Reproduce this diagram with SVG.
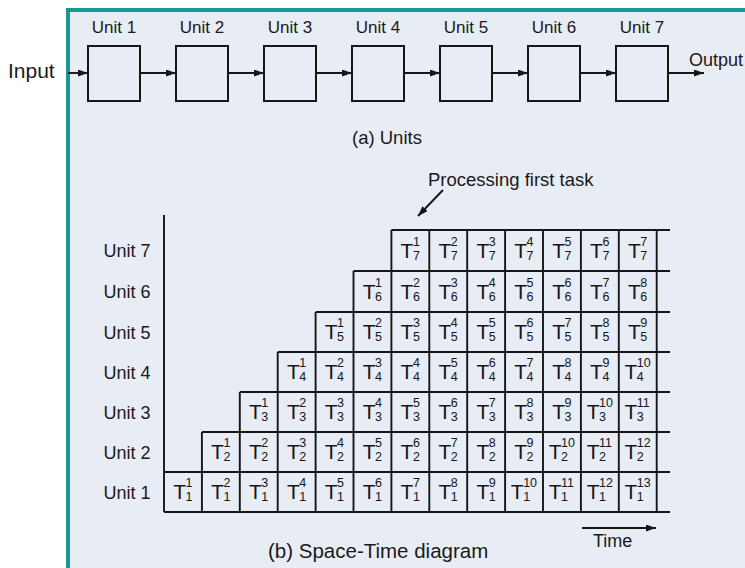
<svg xmlns="http://www.w3.org/2000/svg" width="745" height="568" viewBox="0 0 745 568">
<defs>
<style>
.ln{stroke:#161616;stroke-width:1.9;fill:none}
.bx{stroke:#161616;stroke-width:2;fill:none}
.f{font-family:"Liberation Sans",Arial,Helvetica,sans-serif;fill:#1a1a1a}
.ul{font-size:17px;text-anchor:middle}
.rl{font-size:18px;text-anchor:end}
.t{font-family:"Liberation Sans",Arial,Helvetica,sans-serif;font-size:21px;fill:#161616}
.d{font-size:12.5px}
</style>
<marker id="ah" markerUnits="userSpaceOnUse" markerWidth="10" markerHeight="7" refX="10" refY="3.5" orient="auto">
<path d="M0,0 L10,3.5 L0,7 z" fill="#161616"/>
</marker>
</defs>
<rect x="0" y="0" width="745" height="568" fill="#ffffff"/>
<g id="frame">
<rect x="68" y="10" width="700" height="600" fill="#e8ecf4" stroke="#17998e" stroke-width="4"/>
</g>
<text class="f" x="8" y="78" font-size="21" fill="#000">Input</text>
<text class="f" x="689" y="66" font-size="18">Output</text>
<g id="unit1"><rect class="bx" x="88" y="46" width="52" height="55"/><text class="f ul" x="114" y="33">Unit 1</text></g>
<g id="unit2"><rect class="bx" x="176" y="46" width="52" height="55"/><text class="f ul" x="202" y="33">Unit 2</text></g>
<g id="unit3"><rect class="bx" x="264" y="46" width="52" height="55"/><text class="f ul" x="290" y="33">Unit 3</text></g>
<g id="unit4"><rect class="bx" x="352" y="46" width="52" height="55"/><text class="f ul" x="378" y="33">Unit 4</text></g>
<g id="unit5"><rect class="bx" x="440" y="46" width="52" height="55"/><text class="f ul" x="466" y="33">Unit 5</text></g>
<g id="unit6"><rect class="bx" x="528" y="46" width="52" height="55"/><text class="f ul" x="554" y="33">Unit 6</text></g>
<g id="unit7"><rect class="bx" x="616" y="46" width="52" height="55"/><text class="f ul" x="642" y="33">Unit 7</text></g>
<g id="connectors">
<line class="ln" x1="68" y1="73" x2="88" y2="73" marker-end="url(#ah)"/>
<line class="ln" x1="140" y1="73" x2="176" y2="73" marker-end="url(#ah)"/>
<line class="ln" x1="228" y1="73" x2="264" y2="73" marker-end="url(#ah)"/>
<line class="ln" x1="316" y1="73" x2="352" y2="73" marker-end="url(#ah)"/>
<line class="ln" x1="404" y1="73" x2="440" y2="73" marker-end="url(#ah)"/>
<line class="ln" x1="492" y1="73" x2="528" y2="73" marker-end="url(#ah)"/>
<line class="ln" x1="580" y1="73" x2="616" y2="73" marker-end="url(#ah)"/>
<line class="ln" x1="668" y1="73" x2="704" y2="73" marker-end="url(#ah)"/>
<line class="ln" x1="443" y1="190" x2="418" y2="216" marker-end="url(#ah)"/>
<line class="ln" x1="582" y1="528" x2="656" y2="528" marker-end="url(#ah)"/>
</g>
<text class="f" x="352" y="144" font-size="18.5">(a) Units</text>
<text class="f" x="428" y="185.5" font-size="18.5">Processing first task</text>
<text class="f" x="268" y="558" font-size="20.5">(b) Space-Time diagram</text>
<text class="f" x="593" y="547" font-size="18">Time</text>
<g id="grid">
<path class="ln" d="M391.4,230H670 M353.5,271H670 M315.6,312H670 M277.7,352H670 M239.8,392H670 M201.9,432H670 M164,472H670 M164,512H670 M164,215V512 M201.9,432V512 M239.8,392V512 M277.7,352V512 M315.6,312V512 M353.5,271V512 M391.4,230V512 M429.3,230V512 M467.2,230V512 M505.1,230V512 M543,230V512 M580.9,230V512 M618.8,230V512 M656.7,230V512"/>
</g>
<g id="row-unit7">
<text class="f rl" x="150.5" y="257">Unit 7</text>
<text class="t" x="400.6" y="257.8">T<tspan class="d" x="412.9" y="245.5">1</tspan><tspan class="d" x="412.9" y="259.5">7</tspan></text>
<text class="t" x="438.5" y="257.8">T<tspan class="d" x="450.8" y="245.5">2</tspan><tspan class="d" x="450.8" y="259.5">7</tspan></text>
<text class="t" x="476.4" y="257.8">T<tspan class="d" x="488.7" y="245.5">3</tspan><tspan class="d" x="488.7" y="259.5">7</tspan></text>
<text class="t" x="514.3" y="257.8">T<tspan class="d" x="526.6" y="245.5">4</tspan><tspan class="d" x="526.6" y="259.5">7</tspan></text>
<text class="t" x="552.2" y="257.8">T<tspan class="d" x="564.5" y="245.5">5</tspan><tspan class="d" x="564.5" y="259.5">7</tspan></text>
<text class="t" x="590.1" y="257.8">T<tspan class="d" x="602.4" y="245.5">6</tspan><tspan class="d" x="602.4" y="259.5">7</tspan></text>
<text class="t" x="628" y="257.8">T<tspan class="d" x="640.3" y="245.5">7</tspan><tspan class="d" x="640.3" y="259.5">7</tspan></text>
</g>
<g id="row-unit6">
<text class="f rl" x="150.5" y="298">Unit 6</text>
<text class="t" x="362.7" y="298.8">T<tspan class="d" x="375" y="286.5">1</tspan><tspan class="d" x="375" y="300.5">6</tspan></text>
<text class="t" x="400.6" y="298.8">T<tspan class="d" x="412.9" y="286.5">2</tspan><tspan class="d" x="412.9" y="300.5">6</tspan></text>
<text class="t" x="438.5" y="298.8">T<tspan class="d" x="450.8" y="286.5">3</tspan><tspan class="d" x="450.8" y="300.5">6</tspan></text>
<text class="t" x="476.4" y="298.8">T<tspan class="d" x="488.7" y="286.5">4</tspan><tspan class="d" x="488.7" y="300.5">6</tspan></text>
<text class="t" x="514.3" y="298.8">T<tspan class="d" x="526.6" y="286.5">5</tspan><tspan class="d" x="526.6" y="300.5">6</tspan></text>
<text class="t" x="552.2" y="298.8">T<tspan class="d" x="564.5" y="286.5">6</tspan><tspan class="d" x="564.5" y="300.5">6</tspan></text>
<text class="t" x="590.1" y="298.8">T<tspan class="d" x="602.4" y="286.5">7</tspan><tspan class="d" x="602.4" y="300.5">6</tspan></text>
<text class="t" x="628" y="298.8">T<tspan class="d" x="640.3" y="286.5">8</tspan><tspan class="d" x="640.3" y="300.5">6</tspan></text>
</g>
<g id="row-unit5">
<text class="f rl" x="150.5" y="338.5">Unit 5</text>
<text class="t" x="324.8" y="339.3">T<tspan class="d" x="337.1" y="327">1</tspan><tspan class="d" x="337.1" y="341">5</tspan></text>
<text class="t" x="362.7" y="339.3">T<tspan class="d" x="375" y="327">2</tspan><tspan class="d" x="375" y="341">5</tspan></text>
<text class="t" x="400.6" y="339.3">T<tspan class="d" x="412.9" y="327">3</tspan><tspan class="d" x="412.9" y="341">5</tspan></text>
<text class="t" x="438.5" y="339.3">T<tspan class="d" x="450.8" y="327">4</tspan><tspan class="d" x="450.8" y="341">5</tspan></text>
<text class="t" x="476.4" y="339.3">T<tspan class="d" x="488.7" y="327">5</tspan><tspan class="d" x="488.7" y="341">5</tspan></text>
<text class="t" x="514.3" y="339.3">T<tspan class="d" x="526.6" y="327">6</tspan><tspan class="d" x="526.6" y="341">5</tspan></text>
<text class="t" x="552.2" y="339.3">T<tspan class="d" x="564.5" y="327">7</tspan><tspan class="d" x="564.5" y="341">5</tspan></text>
<text class="t" x="590.1" y="339.3">T<tspan class="d" x="602.4" y="327">8</tspan><tspan class="d" x="602.4" y="341">5</tspan></text>
<text class="t" x="628" y="339.3">T<tspan class="d" x="640.3" y="327">9</tspan><tspan class="d" x="640.3" y="341">5</tspan></text>
</g>
<g id="row-unit4">
<text class="f rl" x="150.5" y="378.5">Unit 4</text>
<text class="t" x="286.9" y="379.3">T<tspan class="d" x="299.2" y="367">1</tspan><tspan class="d" x="299.2" y="381">4</tspan></text>
<text class="t" x="324.8" y="379.3">T<tspan class="d" x="337.1" y="367">2</tspan><tspan class="d" x="337.1" y="381">4</tspan></text>
<text class="t" x="362.7" y="379.3">T<tspan class="d" x="375" y="367">3</tspan><tspan class="d" x="375" y="381">4</tspan></text>
<text class="t" x="400.6" y="379.3">T<tspan class="d" x="412.9" y="367">4</tspan><tspan class="d" x="412.9" y="381">4</tspan></text>
<text class="t" x="438.5" y="379.3">T<tspan class="d" x="450.8" y="367">5</tspan><tspan class="d" x="450.8" y="381">4</tspan></text>
<text class="t" x="476.4" y="379.3">T<tspan class="d" x="488.7" y="367">6</tspan><tspan class="d" x="488.7" y="381">4</tspan></text>
<text class="t" x="514.3" y="379.3">T<tspan class="d" x="526.6" y="367">7</tspan><tspan class="d" x="526.6" y="381">4</tspan></text>
<text class="t" x="552.2" y="379.3">T<tspan class="d" x="564.5" y="367">8</tspan><tspan class="d" x="564.5" y="381">4</tspan></text>
<text class="t" x="590.1" y="379.3">T<tspan class="d" x="602.4" y="367">9</tspan><tspan class="d" x="602.4" y="381">4</tspan></text>
<text class="t" x="624.55" y="379.3">T<tspan class="d" x="636.85" y="367">10</tspan><tspan class="d" x="636.85" y="381">4</tspan></text>
</g>
<g id="row-unit3">
<text class="f rl" x="150.5" y="418.5">Unit 3</text>
<text class="t" x="249" y="419.3">T<tspan class="d" x="261.3" y="407">1</tspan><tspan class="d" x="261.3" y="421">3</tspan></text>
<text class="t" x="286.9" y="419.3">T<tspan class="d" x="299.2" y="407">2</tspan><tspan class="d" x="299.2" y="421">3</tspan></text>
<text class="t" x="324.8" y="419.3">T<tspan class="d" x="337.1" y="407">3</tspan><tspan class="d" x="337.1" y="421">3</tspan></text>
<text class="t" x="362.7" y="419.3">T<tspan class="d" x="375" y="407">4</tspan><tspan class="d" x="375" y="421">3</tspan></text>
<text class="t" x="400.6" y="419.3">T<tspan class="d" x="412.9" y="407">5</tspan><tspan class="d" x="412.9" y="421">3</tspan></text>
<text class="t" x="438.5" y="419.3">T<tspan class="d" x="450.8" y="407">6</tspan><tspan class="d" x="450.8" y="421">3</tspan></text>
<text class="t" x="476.4" y="419.3">T<tspan class="d" x="488.7" y="407">7</tspan><tspan class="d" x="488.7" y="421">3</tspan></text>
<text class="t" x="514.3" y="419.3">T<tspan class="d" x="526.6" y="407">8</tspan><tspan class="d" x="526.6" y="421">3</tspan></text>
<text class="t" x="552.2" y="419.3">T<tspan class="d" x="564.5" y="407">9</tspan><tspan class="d" x="564.5" y="421">3</tspan></text>
<text class="t" x="586.65" y="419.3">T<tspan class="d" x="598.95" y="407">10</tspan><tspan class="d" x="598.95" y="421">3</tspan></text>
<text class="t" x="624.55" y="419.3">T<tspan class="d" x="636.85" y="407">11</tspan><tspan class="d" x="636.85" y="421">3</tspan></text>
</g>
<g id="row-unit2">
<text class="f rl" x="150.5" y="458.5">Unit 2</text>
<text class="t" x="211.1" y="459.3">T<tspan class="d" x="223.4" y="447">1</tspan><tspan class="d" x="223.4" y="461">2</tspan></text>
<text class="t" x="249" y="459.3">T<tspan class="d" x="261.3" y="447">2</tspan><tspan class="d" x="261.3" y="461">2</tspan></text>
<text class="t" x="286.9" y="459.3">T<tspan class="d" x="299.2" y="447">3</tspan><tspan class="d" x="299.2" y="461">2</tspan></text>
<text class="t" x="324.8" y="459.3">T<tspan class="d" x="337.1" y="447">4</tspan><tspan class="d" x="337.1" y="461">2</tspan></text>
<text class="t" x="362.7" y="459.3">T<tspan class="d" x="375" y="447">5</tspan><tspan class="d" x="375" y="461">2</tspan></text>
<text class="t" x="400.6" y="459.3">T<tspan class="d" x="412.9" y="447">6</tspan><tspan class="d" x="412.9" y="461">2</tspan></text>
<text class="t" x="438.5" y="459.3">T<tspan class="d" x="450.8" y="447">7</tspan><tspan class="d" x="450.8" y="461">2</tspan></text>
<text class="t" x="476.4" y="459.3">T<tspan class="d" x="488.7" y="447">8</tspan><tspan class="d" x="488.7" y="461">2</tspan></text>
<text class="t" x="514.3" y="459.3">T<tspan class="d" x="526.6" y="447">9</tspan><tspan class="d" x="526.6" y="461">2</tspan></text>
<text class="t" x="548.75" y="459.3">T<tspan class="d" x="561.05" y="447">10</tspan><tspan class="d" x="561.05" y="461">2</tspan></text>
<text class="t" x="586.65" y="459.3">T<tspan class="d" x="598.95" y="447">11</tspan><tspan class="d" x="598.95" y="461">2</tspan></text>
<text class="t" x="624.55" y="459.3">T<tspan class="d" x="636.85" y="447">12</tspan><tspan class="d" x="636.85" y="461">2</tspan></text>
</g>
<g id="row-unit1">
<text class="f rl" x="150.5" y="498.5">Unit 1</text>
<text class="t" x="173.2" y="499.3">T<tspan class="d" x="185.5" y="487">1</tspan><tspan class="d" x="185.5" y="501">1</tspan></text>
<text class="t" x="211.1" y="499.3">T<tspan class="d" x="223.4" y="487">2</tspan><tspan class="d" x="223.4" y="501">1</tspan></text>
<text class="t" x="249" y="499.3">T<tspan class="d" x="261.3" y="487">3</tspan><tspan class="d" x="261.3" y="501">1</tspan></text>
<text class="t" x="286.9" y="499.3">T<tspan class="d" x="299.2" y="487">4</tspan><tspan class="d" x="299.2" y="501">1</tspan></text>
<text class="t" x="324.8" y="499.3">T<tspan class="d" x="337.1" y="487">5</tspan><tspan class="d" x="337.1" y="501">1</tspan></text>
<text class="t" x="362.7" y="499.3">T<tspan class="d" x="375" y="487">6</tspan><tspan class="d" x="375" y="501">1</tspan></text>
<text class="t" x="400.6" y="499.3">T<tspan class="d" x="412.9" y="487">7</tspan><tspan class="d" x="412.9" y="501">1</tspan></text>
<text class="t" x="438.5" y="499.3">T<tspan class="d" x="450.8" y="487">8</tspan><tspan class="d" x="450.8" y="501">1</tspan></text>
<text class="t" x="476.4" y="499.3">T<tspan class="d" x="488.7" y="487">9</tspan><tspan class="d" x="488.7" y="501">1</tspan></text>
<text class="t" x="510.85" y="499.3">T<tspan class="d" x="523.15" y="487">10</tspan><tspan class="d" x="523.15" y="501">1</tspan></text>
<text class="t" x="548.75" y="499.3">T<tspan class="d" x="561.05" y="487">11</tspan><tspan class="d" x="561.05" y="501">1</tspan></text>
<text class="t" x="586.65" y="499.3">T<tspan class="d" x="598.95" y="487">12</tspan><tspan class="d" x="598.95" y="501">1</tspan></text>
<text class="t" x="624.55" y="499.3">T<tspan class="d" x="636.85" y="487">13</tspan><tspan class="d" x="636.85" y="501">1</tspan></text>
</g>
</svg>
